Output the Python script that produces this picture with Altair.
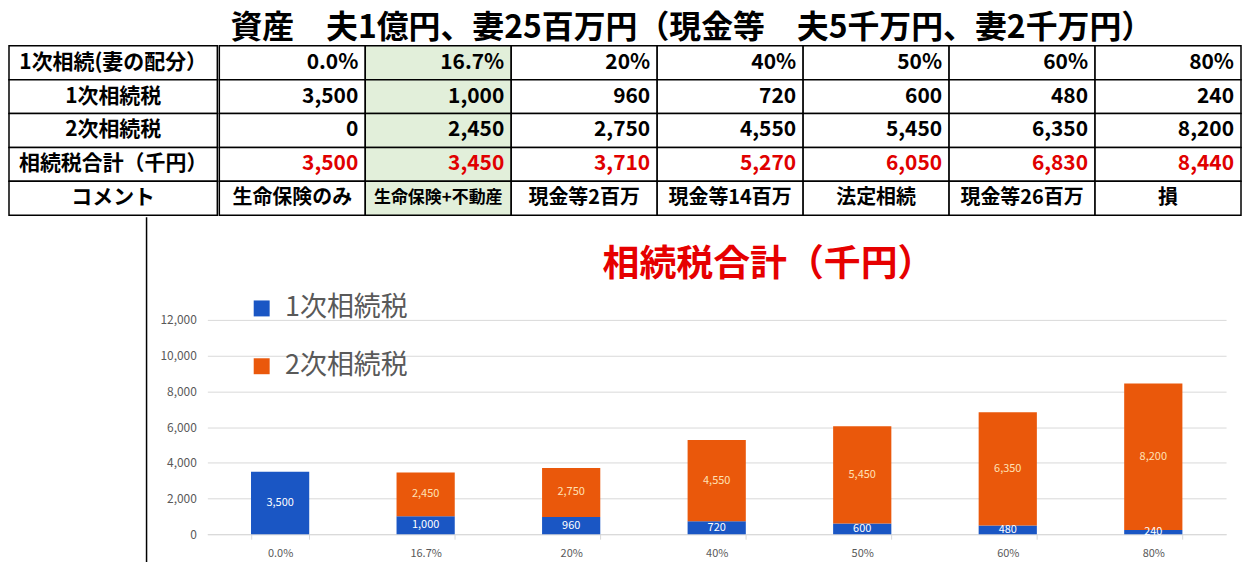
import altair as alt
import pandas as pd

FONT = "Noto Sans CJK JP"

table_title = "資産　夫1億円、妻25百万円（現金等　夫5千万円、妻2千万円）"
chart_title = "相続税合計（千円）"
row_labels = ["1次相続(妻の配分）", "1次相続税", "2次相続税", "相続税合計（千円）", "コメント"]
ratios = ["0.0%", "16.7%", "20%", "40%", "50%", "60%", "80%"]
tax1 = [3500, 1000, 960, 720, 600, 480, 240]
tax2 = [0, 2450, 2750, 4550, 5450, 6350, 8200]
totals = [3500, 3450, 3710, 5270, 6050, 6830, 8440]
comments = ["生命保険のみ", "生命保険+不動産", "現金等2百万", "現金等14百万", "法定相続", "現金等26百万", "損"]
series_names = ["1次相続税", "2次相続税"]
highlight = "16.7%"

# ---------- table ----------
cells = []
for i, r in enumerate(ratios):
    vals = [r, f"{tax1[i]:,}", f"{tax2[i]:,}", f"{totals[i]:,}", comments[i]]
    for j, v in enumerate(vals):
        cells.append({"ratio": r, "row": row_labels[j], "text": v})
cells_df = pd.DataFrame(cells)
labels_df = pd.DataFrame({"row": row_labels, "col": ["label"] * len(row_labels)})

row_y = alt.Y("row:N", sort=row_labels, axis=None,
              scale=alt.Scale(paddingInner=0, paddingOuter=0))

lx = alt.X("col:N", axis=None, scale=alt.Scale(paddingInner=0, paddingOuter=0))
left_base = alt.Chart(labels_df).encode(y=row_y)
left = alt.layer(
    left_base.mark_rect(fill="white", stroke="black", strokeWidth=1.5).encode(x=lx),
    left_base.mark_text(font=FONT, fontSize=21, fontWeight="bold", color="black").encode(
        x=lx, text="row:N"),
).properties(width=209, height=170)

tx = alt.X("ratio:N", sort=ratios, axis=None, scale=alt.Scale(paddingInner=0, paddingOuter=0))
tx_end = alt.X("ratio:N", sort=ratios, axis=None, bandPosition=1)
base = alt.Chart(cells_df).encode(y=row_y)
rect = base.mark_rect(stroke="black", strokeWidth=1.5).encode(
    x=tx,
    fill=alt.condition(alt.datum.ratio == highlight, alt.value("#E2EFDA"), alt.value("white")),
)
nums = base.transform_filter(alt.datum.row != row_labels[4]).mark_text(
    font=FONT, fontSize=21, fontWeight="bold", align="right", dx=-7
).encode(
    x=tx_end,
    text="text:N",
    color=alt.condition(alt.datum.row == row_labels[3], alt.value("#E00000"), alt.value("black")),
)
com = base.transform_filter(
    (alt.datum.row == row_labels[4]) & (alt.datum.ratio != highlight)
).mark_text(font=FONT, fontSize=20, fontWeight="bold", color="black").encode(x=tx, text="text:N")
com_small = base.transform_filter(
    (alt.datum.row == row_labels[4]) & (alt.datum.ratio == highlight)
).mark_text(font=FONT, fontSize=17, fontWeight="bold", color="black").encode(x=tx, text="text:N")
right = alt.layer(rect, nums, com, com_small).properties(width=1025, height=170)

table = alt.hconcat(
    left, right, spacing=0,
    title=alt.Title(["", table_title], fontSize=32, fontWeight="bold", font=FONT, color="black",
                    anchor="middle", dx=67, offset=0, lineHeight=3),
)

# ---------- bar chart ----------
bar_rows = []
for i, r in enumerate(ratios):
    bar_rows.append({"ratio": r, "series": series_names[0], "value": tax1[i]})
    bar_rows.append({"ratio": r, "series": series_names[1], "value": tax2[i]})
bars_df = pd.DataFrame(bar_rows)

xb = alt.X(
    "ratio:N", sort=ratios, title=None,
    scale=alt.Scale(paddingInner=0.6, paddingOuter=0.3),
    axis=alt.Axis(labelAngle=0, labelColor="#595959", labelFontSize=11, labelFont=FONT,
                  domainColor="#D9D9D9", tickColor="#D9D9D9", tickBand="extent",
                  tickSize=5, labelPadding=8),
)
y_scale = alt.Scale(domain=[0, 12000], nice=False)
y_axis = alt.Axis(tickCount=6, format=",d", domain=False, ticks=False,
                  gridColor="#D9D9D9", labelColor="#595959", labelFontSize=12,
                  labelFont=FONT, labelPadding=11)

bars = alt.Chart(bars_df).mark_bar().encode(
    x=xb,
    y=alt.Y("value:Q", stack="zero", title=None, scale=y_scale, axis=y_axis),
    color=alt.Color(
        "series:N",
        scale=alt.Scale(domain=series_names, range=["#1A56C4", "#EA580B"]),
        legend=alt.Legend(orient="none", legendX=41, legendY=-25, title=None,
                          symbolType="square", symbolSize=256, symbolStrokeWidth=0,
                          labelFontSize=27, labelColor="#595959", labelFont=FONT,
                          rowPadding=30, labelOffset=10, padding=0, direction="vertical"),
    ),
    order=alt.Order("series:N", sort="ascending"),
)

bar_labels = alt.Chart(bars_df).transform_filter(alt.datum.value > 0).transform_stack(
    stack="value", as_=["y0", "y1"], groupby=["ratio"],
    sort=[alt.SortField("series", order="ascending")],
).transform_calculate(mid="(datum.y0 + datum.y1) / 2").mark_text(
    font=FONT, fontSize=11
).encode(
    x=alt.X("ratio:N", sort=ratios, title=None),
    y=alt.Y("mid:Q", title=None, scale=y_scale, axis=y_axis),
    text=alt.Text("value:Q", format=","),
    color=alt.condition(alt.datum.series == series_names[0], alt.value("white"), alt.value("#FFE1B5")),
)

bar_chart = alt.layer(bars, bar_labels).properties(
    width=1022, height=215,
    title=alt.Title(["", chart_title], fontSize=37, fontWeight="bold", color="#E60000", font=FONT,
                    anchor="middle", frame="group", dx=52, offset=11, lineHeight=26),
)

spacer = alt.Chart(pd.DataFrame({"a": [0]})).mark_rule(color="black", strokeWidth=1.5).encode(
    x=alt.value(138), y=alt.value(-103), y2=alt.value(244)
).properties(width=138, height=215)

bar_row = alt.hconcat(spacer, bar_chart, spacing=12).resolve_legend(color="independent")

chart = alt.vconcat(table, bar_row, spacing=0).resolve_legend(color="independent").properties(
    padding=0
).configure(font=FONT).configure_view(strokeWidth=0)

chart.save("out.html", embed_options={"renderer": "svg", "actions": False})
